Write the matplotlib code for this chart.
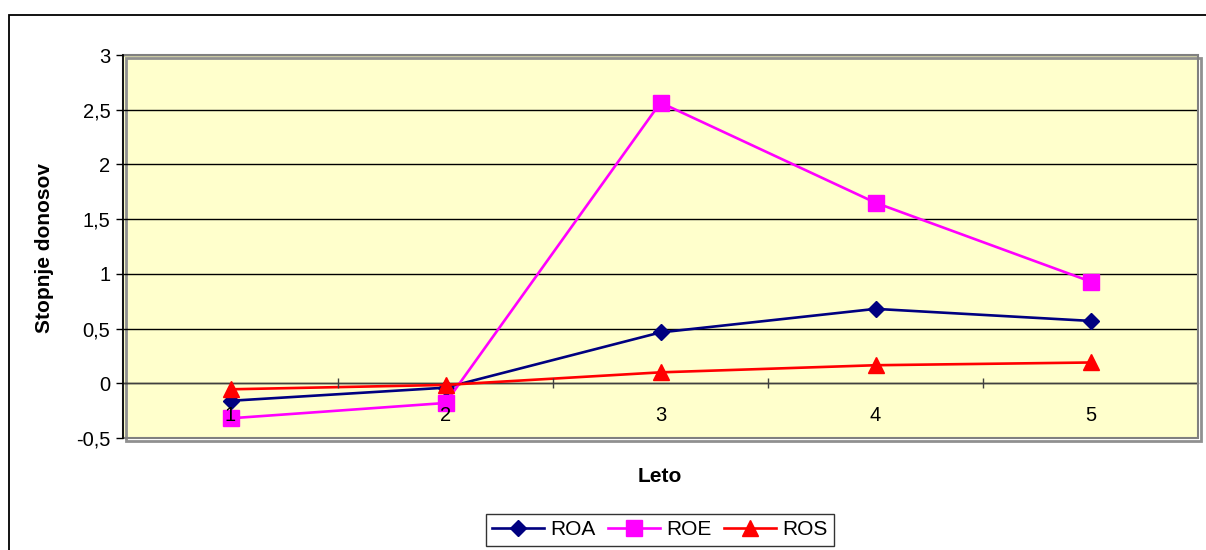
import matplotlib
matplotlib.use("Agg")
import matplotlib.pyplot as plt
from matplotlib.patches import Rectangle
from matplotlib.ticker import FixedLocator, FuncFormatter

plt.rcParams['font.family'] = ['Liberation Sans', 'DejaVu Sans']

# Data
years = ["1", "2", "3", "4", "5"]
roa = [-0.16, -0.04, 0.465, 0.68, 0.57]
roe = [-0.32, -0.18, 2.565, 1.65, 0.93]
ros = [-0.055, -0.015, 0.10, 0.165, 0.19]
y_ticks = [-0.5, 0, 0.5, 1, 1.5, 2, 2.5, 3]

W, H = 1206, 550
fig = plt.figure(figsize=(W / 100, H / 100), dpi=100)
fig.patch.set_facecolor('white')

# Outer chart frame
fig.patches.append(Rectangle((9 / W, -0.2), 1.2, 1.2 - 15 / H,
                             transform=fig.transFigure, fill=False,
                             edgecolor='black', linewidth=1.3))

L, R, T, B = 123, 1198, 55, 438
ax = fig.add_axes([L / W, 1 - B / H, (R - L) / W, (B - T) / H])
ax.set_facecolor('#FFFFCC')

x = list(range(len(years)))
ax.set_xlim(-0.5, len(years) - 0.5)
ax.set_ylim(-0.5, 3)

# Horizontal gridlines
for v in y_ticks[1:]:
    ax.axhline(v, color='black', linewidth=1.0, zorder=1)

ax.plot(x, roa, color='#000080', marker='D', markersize=8, linewidth=1.9,
        label='ROA', zorder=2.0)
ax.plot(x, roe, color='#FF00FF', marker='s', markersize=11.5, linewidth=1.9,
        label='ROE', zorder=2.1)
ax.plot(x, ros, color='#FF0000', marker='^', markersize=11.5, linewidth=1.9,
        label='ROS', zorder=2.2)

# Plot area border (gray) with shadow
ax.add_patch(Rectangle((0, 0), 1, 1, transform=ax.transAxes, fill=False,
                       edgecolor='#808080', linewidth=1.5, zorder=6,
                       clip_on=False))
ax.add_patch(Rectangle((3 / (R - L), -3 / (B - T)), 1, 1, transform=ax.transAxes,
                       fill=False, edgecolor='#909090', linewidth=2.0, zorder=0.5,
                       clip_on=False))

for s in ['top', 'right']:
    ax.spines[s].set_visible(False)
ax.spines['left'].set_color('black')
ax.spines['left'].set_linewidth(1.2)
ax.spines['left'].set_zorder(7)
ax.spines['bottom'].set_position(('data', 0))
ax.spines['bottom'].set_color('#404040')
ax.spines['bottom'].set_linewidth(1.0)
ax.spines['bottom'].set_zorder(1.5)

ax.yaxis.set_major_locator(FixedLocator(y_ticks))
ax.yaxis.set_major_formatter(FuncFormatter(lambda v, p: f"{v:g}".replace('.', ',')))
ax.tick_params(axis='y', direction='out', length=5, width=1, labelsize=14.5, pad=4)

ax.set_xticks(x)
ax.set_xticklabels(years)
ax.set_xticks([i + 0.5 for i in x[:-1]], minor=True)
ax.tick_params(axis='x', which='major', length=0, labelsize=14.5, pad=16)
ax.tick_params(axis='x', which='minor', direction='inout', length=7, width=1,
               color='#404040')
# Category labels sit on top of the series lines
ax.xaxis.set_zorder(10)
ax.yaxis.set_zorder(10)

fig.text(45 / W, 1 - 248 / H, 'Stopnje donosov', rotation=90, ha='center',
         va='center', fontsize=15, fontweight='bold')
fig.text(660 / W, 1 - 476 / H, 'Leto', ha='center', va='center',
         fontsize=15, fontweight='bold')

leg = fig.legend(loc='upper center', bbox_to_anchor=(660 / W, 1 - 514 / H),
                 ncol=3, fontsize=15, frameon=True, fancybox=False,
                 edgecolor='black', handlelength=2.5, handletextpad=0.3,
                 columnspacing=0.6, borderpad=0.3, borderaxespad=0)
leg.get_frame().set_linewidth(1.0)

fig.savefig('out.png', dpi=100)
